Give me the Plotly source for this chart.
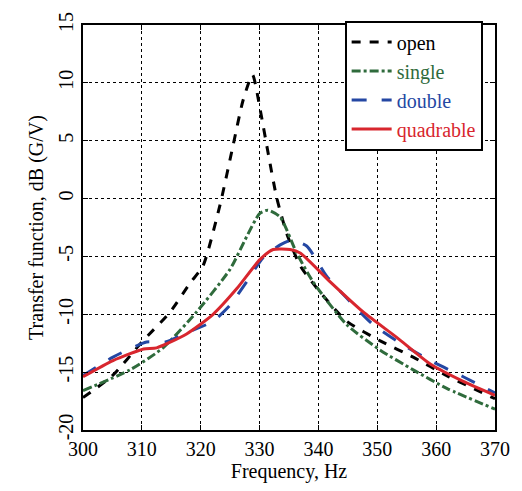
import plotly.graph_objects as go

# Frequency (Hz) and transfer function (dB) for each configuration
open_f = [300, 305, 310, 314.8, 318.2, 320.4, 323.3, 325.5, 327.2, 328.8, 330.1, 331.5, 332.9, 334.6, 336.9, 340.3, 344.8, 350.5, 356.1, 361.8, 370]
open_db = [-17.2, -15.3, -12.4, -9.8, -7.3, -5.8, -0.5, 4.6, 8.5, 10.7, 7.7, 3.8, 0.1, -3.0, -5.8, -8.1, -10.6, -12.3, -13.7, -15.3, -17.3]

single_f = [300, 308, 313.6, 319.3, 325, 327.8, 330, 331.4, 333.5, 336.3, 339.1, 344.8, 350.5, 356.1, 361.8, 370]
single_db = [-16.6, -14.8, -12.9, -9.8, -6.1, -3.3, -1.3, -1.0, -1.6, -4.7, -7.2, -10.9, -13.1, -14.8, -16.4, -18.2]

double_f = [300, 305.1, 310.8, 314, 317.6, 322.1, 325, 327.8, 330.6, 333.5, 335.4, 338, 341.4, 344.8, 349.3, 353.3, 359, 364.6, 370]
double_db = [-15.3, -13.7, -12.4, -12.4, -11.6, -10.6, -9.2, -7.2, -5.1, -4.0, -3.6, -4.1, -6.7, -8.6, -10.9, -12.3, -14.0, -15.4, -16.8]

quad_f = [300, 305.1, 310.3, 312.5, 317.6, 322.1, 326.1, 330, 332.3, 335.2, 336.9, 342, 347.6, 353.3, 359, 364.6, 370]
quad_db = [-15.4, -14.0, -13.0, -12.9, -11.7, -10.0, -7.8, -5.3, -4.4, -4.4, -4.7, -7.2, -9.8, -12.0, -14.3, -15.8, -17.0]

x_ticks = [300, 310, 320, 330, 340, 350, 360, 370]
y_ticks = [-20, -15, -10, -5, 0, 5, 10, 15]
y_tick_labels = ["-20", "-15", "-10", "-5", "0", "5", "10", "15"]

series = [
    ("open", open_f, open_db, "#000000", "dash"),
    ("single", single_f, single_db, "#2f6b3c", "dashdot"),
    ("double", double_f, double_db, "#2447a3", "longdash"),
    ("quadrable", quad_f, quad_db, "#d8262e", "solid"),
]

fig = go.Figure()
for name, xs, ys, col, dash in series:
    fig.add_trace(go.Scatter(
        x=xs, y=ys, mode="lines",
        name=f"<span style='color:{col}'>{name}</span>",
        line=dict(color=col, width=3, dash=dash, shape="spline", smoothing=0.6),
    ))

font_family = "Liberation Serif, Times New Roman, serif"
axis_common = dict(
    showline=True, linecolor="black", linewidth=1.5, mirror="ticks",
    ticks="inside", ticklen=5, tickcolor="black",
    showgrid=True, gridcolor="black", gridwidth=1, griddash="dot",
    zeroline=False, tickfont=dict(family=font_family, size=20, color="black"),
)

fig.update_layout(
    width=522, height=491,
    margin=dict(l=83, r=27, t=17, b=61),
    paper_bgcolor="white", plot_bgcolor="white",
    font=dict(family=font_family, size=20, color="black"),
    xaxis=dict(range=[300, 370], tickvals=x_ticks,
               title=dict(text="Frequency, Hz", font=dict(family=font_family, size=20), standoff=4),
               **axis_common),
    yaxis=dict(range=[-20, 15], tickvals=y_ticks, ticktext=y_tick_labels, tickangle=-90,
               title=dict(text="Transfer function, dB (G/V)", font=dict(family=font_family, size=20), standoff=6),
               **axis_common),
    legend=dict(x=0.97, y=1.011, xanchor="right", yanchor="top",
                bgcolor="white", bordercolor="black", borderwidth=2,
                font=dict(family=font_family, size=20), tracegroupgap=0, itemwidth=40),
    showlegend=True,
)

fig.write_html("out.html")
